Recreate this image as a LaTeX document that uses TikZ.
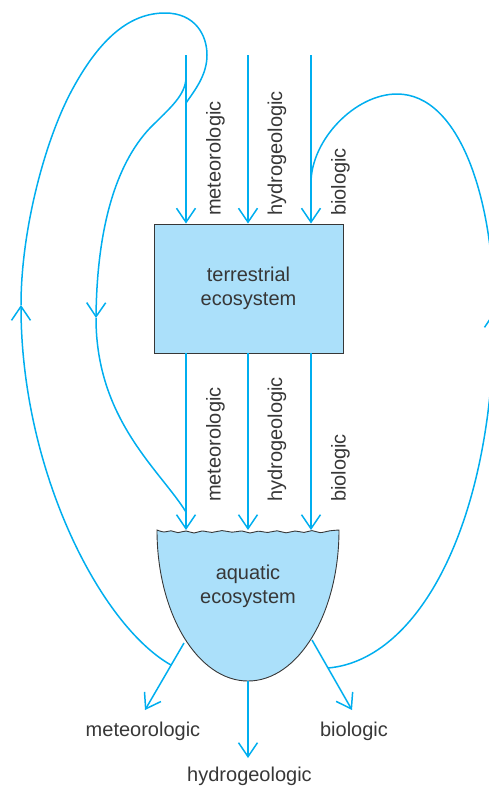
\documentclass[tikz,border=0pt]{standalone}
\usepackage{fontspec}
\setmainfont{Liberation Sans}
\usetikzlibrary{arrows.meta, positioning, calc}

\definecolor{flowblue}{RGB}{0,174,239}
\definecolor{ecofill}{RGB}{171,224,250}
\definecolor{inkgray}{RGB}{55,55,55}

\begin{document}
\begin{tikzpicture}[
    x=1pt, y=-1pt,
    eco/.style={draw=inkgray, line width=0.9pt, fill=ecofill},
    txt/.style={text=inkgray, font=\fontsize{20}{24}\selectfont, inner sep=0pt},
    side/.style={txt, rotate=90, anchor=base west},
    flow/.style={draw=flowblue, line width=1.5pt, -{Straight Barb[length=14pt, width=19pt]}},
    back/.style={draw=flowblue, line width=1.5pt}
]
    \useasboundingbox (0,0) rectangle (488,788);

    % inputs from above
    \coordinate (inM) at (186,55);
    \coordinate (inH) at (248,55);
    \coordinate (inB) at (311,55);

    \node[eco, txt, align=center, minimum width=189pt, minimum height=129pt] (terr) at (248.5,288.5) {terrestrial\\ecosystem};

    % the bowl with its rough water surface
    \draw[eco] plot[smooth, tension=0.6] coordinates {(157,530) (164,532) (171,530.8) (178,532.6) (186,531) (194,533) (202,531) (212,532.4) (222,530.6) (232,532.2) (242,531) (250,533) (258,531.2) (268,532.4) (277,530.8) (286,532.8) (295,531) (304,532.4) (312,530.6) (320,532.6) (330,530.8) (339,530)}
        .. controls (339,613.4) and (298.3,681) .. (248,681)
        .. controls (197.7,681) and (157,613.4) .. (157,530) -- cycle;
    \node[txt, align=center] (aqua) at (248,586) {aquatic\\ecosystem};
    \coordinate (aqM) at (186,530);
    \coordinate (aqH) at (248,530);
    \coordinate (aqB) at (311,530);

    % outputs below
    \coordinate (outM0) at (184,643);
    \coordinate (outH0) at (248,681);
    \coordinate (outB0) at (312,640);
    \coordinate (outM) at (145,710);
    \coordinate (outH) at (248,758);
    \coordinate (outB) at (352,710);

    \draw[flow] (inM) -- (inM |- terr.north);
    \draw[flow] (inH) -- (inH |- terr.north);
    \draw[flow] (inB) -- (inB |- terr.north);
    \draw[flow] (terr.south -| inM) -- (aqM);
    \draw[flow] (terr.south -| inH) -- (aqH);
    \draw[flow] (terr.south -| inB) -- (aqB);
    \draw[flow] (outM0) -- (outM);
    \draw[flow] (outH0) -- (outH);
    \draw[flow] (outB0) -- (outB);

    \node[side] (tM) at (220.5,216) {meteorologic};
    \node[side] (tH) at (282,216) {hydrogeologic};
    \node[side] (tB) at (345.5,216) {biologic};
    \node[side] (mM) at (220.5,502) {meteorologic};
    \node[side] (mH) at (282,502) {hydrogeologic};
    \node[side] (mB) at (345.5,502) {biologic};

    \node[txt, anchor=base] (lblM) at (143,736) {meteorologic};
    \node[txt, anchor=base] (lblH) at (249.5,781) {hydrogeologic};
    \node[txt, anchor=base] (lblB) at (354,736) {biologic};

    % outer loop on the left
    \coordinate (lStart) at ($(outM0)!0.33!(outM)$);
    \coordinate (lTip) at (21,305);
    \coordinate (lJoin) at (186,103);
    \draw[flow] (lStart) .. controls (100,625) and (21,470) .. (lTip);
    \draw[back] (lTip) .. controls (21,230) and (45,140) .. (72,90)
        .. controls (100,38) and (130,13) .. (165,13)
        .. controls (195,13) and (207,35) .. (207,55)
        .. controls (207,75) and (195,90) .. (lJoin);

    % inner loop on the left
    \coordinate (iStart) at (186,77);
    \coordinate (iTip) at (96,318);
    \coordinate (iJoin) at (186,512);
    \draw[flow] (iStart) .. controls (186,95) and (170,108) .. (150,128)
        .. controls (115,165) and (97,230) .. (iTip);
    \draw[back] (iTip) .. controls (96,420) and (160,470) .. (iJoin);

    % loop on the right
    \coordinate (rStart) at ($(outB0)!0.4!(outB)$);
    \coordinate (rTip) at (494,312);
    \coordinate (rJoin) at (311,183);
    \draw[flow] (rStart) .. controls (420,660) and (494,520) .. (rTip);
    \draw[back] (rTip) .. controls (494,200) and (460,94) .. (397,94)
        .. controls (355,94) and (311,140) .. (rJoin);
\end{tikzpicture}
\end{document}
